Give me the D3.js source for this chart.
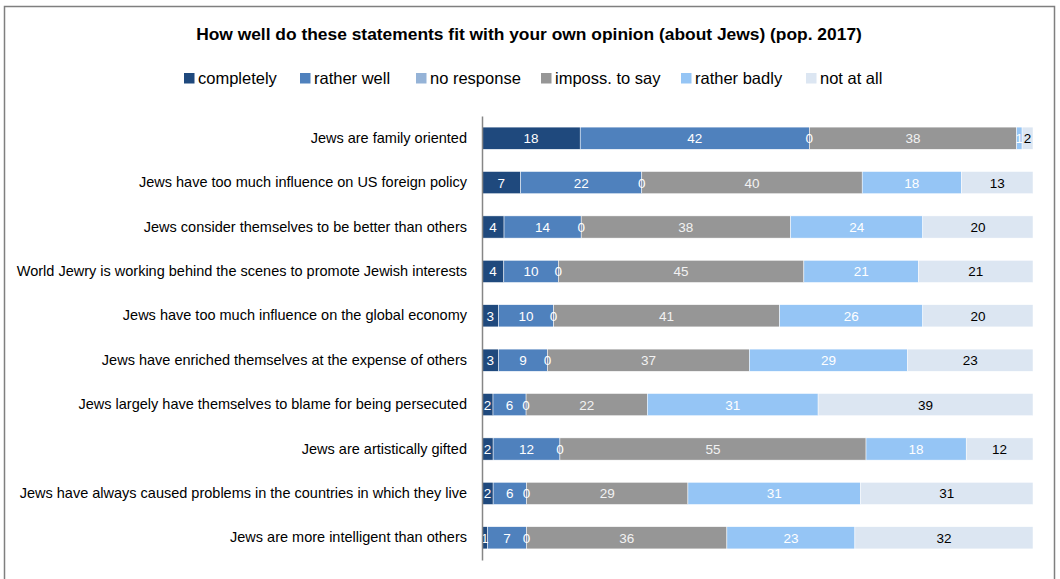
<!DOCTYPE html>
<html>
<head>
<meta charset="utf-8">
<script src="https://cdn.jsdelivr.net/npm/d3@7"></script>
<style>
  html, body { margin: 0; padding: 0; background: #fff; }
  svg { display: block; font-family: "Liberation Sans", Arial, sans-serif; }
</style>
</head>
<body>
<svg id="chart" width="1060" height="579"></svg>
<script>
// Survey statements (rows, top to bottom)
const categories = [
  "Jews are family oriented",
  "Jews have too much influence on US foreign policy",
  "Jews consider themselves to be better than others",
  "World Jewry is working behind the scenes to promote Jewish interests",
  "Jews have too much influence on the global economy",
  "Jews have enriched themselves at the expense of others",
  "Jews largely have themselves to blame for being persecuted",
  "Jews are artistically gifted",
  "Jews have always caused problems in the countries in which they live",
  "Jews are more intelligent than others"
];

// Answer shares (%) per statement
const completely  = [18, 7, 4, 4, 3, 3, 2, 2, 2, 1];
const ratherWell  = [42, 22, 14, 10, 10, 9, 6, 12, 6, 7];
const noResponse  = [0, 0, 0, 0, 0, 0, 0, 0, 0, 0];
const impossToSay = [38, 40, 38, 45, 41, 37, 22, 55, 29, 36];
const ratherBadly = [1, 18, 24, 21, 26, 29, 31, 18, 31, 23];
const notAtAll    = [2, 13, 20, 21, 20, 23, 39, 12, 31, 32];

const seriesNames = ["completely", "rather well", "no response", "imposs. to say", "rather badly", "not at all"];
const seriesValues = [completely, ratherWell, noResponse, impossToSay, ratherBadly, notAtAll];
const colors = ["#1f497d", "#4f81bd", "#95b3d7", "#969696", "#95c5f5", "#dce6f2"];
const labelColors = ["#fff", "#fff", "#fff", "#f2f2f2", "#fff", "#000"];

const title = "How well do these statements fit with your own opinion (about Jews) (pop. 2017)";

const rows = categories.map((c, i) => {
  const r = { category: c };
  seriesNames.forEach((s, k) => { r[s] = seriesValues[k][i]; });
  return r;
});

// 100% stacked layout
const stacked = d3.stack()
  .keys(seriesNames)
  .offset(d3.stackOffsetExpand)(rows);

const svg = d3.select("#chart");

// Chart frame
svg.append("rect")
  .attr("x", 4.5).attr("y", 6.5)
  .attr("width", 1050).attr("height", 590)
  .attr("fill", "none")
  .attr("stroke", "#7f7f7f")
  .attr("stroke-width", 1.5);

const x = d3.scaleLinear().domain([0, 1]).range([482, 1033]);
const y = d3.scaleBand().domain(categories).range([116, 560])
  .paddingInner(0.5).paddingOuter(0.25);

// Title
svg.append("text")
  .attr("x", 529).attr("y", 40)
  .attr("text-anchor", "middle")
  .attr("font-size", 17.4)
  .attr("font-weight", "bold")
  .attr("fill", "#000")
  .text(title);

// Legend
const legendX = [184, 300, 416, 541, 681, 806];
const legend = svg.append("g");
seriesNames.forEach((s, k) => {
  const g = legend.append("g").attr("transform", `translate(${legendX[k]},73)`);
  g.append("rect").attr("width", 10.5).attr("height", 10.5).attr("fill", colors[k]);
  g.append("text").attr("x", 14).attr("y", 11)
    .attr("font-size", 16.5).attr("fill", "#000").text(s);
});

// Bars
const layers = svg.append("g").selectAll("g")
  .data(stacked)
  .join("g")
  .attr("fill", (d, k) => colors[k]);

layers.selectAll("rect")
  .data(d => d)
  .join("rect")
  .attr("x", d => x(d[0]))
  .attr("y", d => y(d.data.category))
  .attr("width", d => x(d[1]) - x(d[0]))
  .attr("height", y.bandwidth())
  .attr("stroke", "#fff")
  .attr("stroke-width", 0.5);

// Data labels
stacked.forEach((layer, k) => {
  svg.append("g").selectAll("text")
    .data(layer)
    .join("text")
    .attr("x", d => (x(d[0]) + x(d[1])) / 2)
    .attr("y", d => y(d.data.category) + y.bandwidth() / 2 + 5)
    .attr("text-anchor", "middle")
    .attr("font-size", 13.5)
    .attr("fill", labelColors[k])
    .text(d => d.data[seriesNames[k]]);
});

// Category axis
const yAxis = svg.append("g")
  .attr("transform", "translate(482,0)")
  .call(d3.axisLeft(y).tickSize(0).tickPadding(15));
yAxis.select(".domain").attr("stroke", "#868686").attr("stroke-width", 1.5);
yAxis.selectAll("text")
  .attr("font-size", 14.5)
  .attr("fill", "#000")
  .attr("font-family", "Liberation Sans, Arial, sans-serif");
</script>
</body>
</html>
